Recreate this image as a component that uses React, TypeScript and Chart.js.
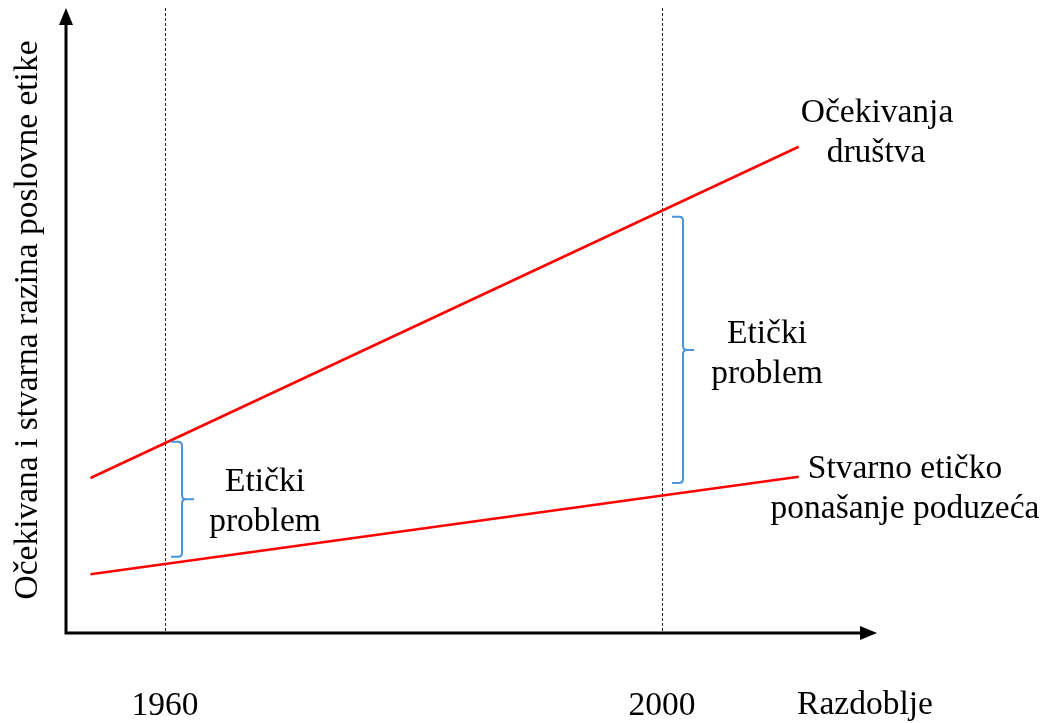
import React, { useEffect, useRef } from "react";
import { Chart, registerables } from "chart.js";

Chart.register(...registerables);

// ---- data ----
const periods = [1954, 2011];
const societyExpectations = [24.8, 77.8];
const actualBehaviour = [9.4, 25.0];
const markedYears = [1960, 2000];
const tickLabels = ["1960", "2000"];
const gapTop = [30.6, 66.6];
const gapBottom = [12.2, 24.0];
const gapLabel = ["Etički", "problem"];
const expectationsLabel = ["Očekivanja", "društva"];
const behaviourLabel = ["Stvarno etičko", "ponašanje poduzeća"];
const xTitle = "Razdoblje";
const yTitle = "Očekivana i stvarna razina poslovne etike";

const FONT = '33.5px "Liberation Serif", "Times New Roman", serif';

const overlay = {
  id: "overlay",
  beforeDatasetsDraw(chart: any) {
    const { ctx, chartArea, scales } = chart;
    const xs = scales.x;
    ctx.save();
    ctx.strokeStyle = "#222";
    ctx.lineWidth = 1;
    ctx.setLineDash([3, 2]);
    markedYears.forEach((yr) => {
      const px = Math.round(xs.getPixelForValue(yr)) + 0.5;
      ctx.beginPath();
      ctx.moveTo(px, chartArea.top);
      ctx.lineTo(px, chartArea.bottom);
      ctx.stroke();
    });
    ctx.restore();
  },
  afterDatasetsDraw(chart: any) {
    const { ctx, chartArea, scales } = chart;
    const xs = scales.x;
    const ys = scales.y;
    const left = chartArea.left;
    const bottom = chartArea.bottom;
    const top = chartArea.top;
    const right = chartArea.right;
    ctx.save();
    // axes
    ctx.strokeStyle = "#000";
    ctx.fillStyle = "#000";
    ctx.lineWidth = 3;
    ctx.setLineDash([]);
    ctx.beginPath();
    ctx.moveTo(left, top + 12);
    ctx.lineTo(left, bottom);
    ctx.lineTo(right - 12, bottom);
    ctx.stroke();
    // arrow heads
    ctx.beginPath();
    ctx.moveTo(left, top);
    ctx.lineTo(left - 7, top + 17);
    ctx.lineTo(left + 7, top + 17);
    ctx.closePath();
    ctx.fill();
    ctx.beginPath();
    ctx.moveTo(right, bottom);
    ctx.lineTo(right - 17, bottom - 7);
    ctx.lineTo(right - 17, bottom + 7);
    ctx.closePath();
    ctx.fill();

    // braces
    ctx.strokeStyle = "#4A94DA";
    ctx.lineWidth = 2;
    const offs = [
      [6, 17, 29],
      [10, 21, 32],
    ];
    markedYears.forEach((yr, i) => {
      const x0 = xs.getPixelForValue(yr) + offs[i][0];
      const xv = xs.getPixelForValue(yr) + offs[i][1];
      const xt = xs.getPixelForValue(yr) + offs[i][2];
      const yt = ys.getPixelForValue(gapTop[i]);
      const yb = ys.getPixelForValue(gapBottom[i]);
      const ym = (yt + yb) / 2;
      const r = 4;
      ctx.beginPath();
      ctx.moveTo(x0, yt);
      ctx.lineTo(xv - r, yt);
      ctx.quadraticCurveTo(xv, yt, xv, yt + r);
      ctx.lineTo(xv, ym - r);
      ctx.quadraticCurveTo(xv, ym, xv + r, ym);
      ctx.lineTo(xt, ym);
      ctx.moveTo(xv + r, ym);
      ctx.quadraticCurveTo(xv, ym, xv, ym + r);
      ctx.lineTo(xv, yb - r);
      ctx.quadraticCurveTo(xv, yb, xv - r, yb);
      ctx.lineTo(x0, yb);
      ctx.stroke();
    });

    // text
    ctx.fillStyle = "#000";
    ctx.font = FONT;
    ctx.textAlign = "center";
    ctx.textBaseline = "alphabetic";
    // gap labels
    const gapCx = [265, 767];
    const gapBase = [491, 343];
    gapCx.forEach((cx, i) => {
      ctx.fillText(gapLabel[0], cx, gapBase[i]);
      ctx.fillText(gapLabel[1], cx, gapBase[i] + 40);
    });
    // series labels
    ctx.fillText(expectationsLabel[0], 877, 122);
    ctx.fillText(expectationsLabel[1], 876, 162);
    ctx.fillText(behaviourLabel[0], 905, 478);
    ctx.fillText(behaviourLabel[1], 905, 518);
    // tick labels
    markedYears.forEach((yr, i) => {
      ctx.fillText(tickLabels[i], xs.getPixelForValue(yr), 715);
    });
    ctx.fillText(xTitle, 865, 714);
    // y title
    ctx.translate(37, 320);
    ctx.rotate(-Math.PI / 2);
    ctx.fillText(yTitle, 0, 0);
    ctx.restore();
  },
};

export default function App() {
  const ref = useRef<HTMLCanvasElement | null>(null);
  useEffect(() => {
    if (!ref.current) return;
    const chart = new Chart(ref.current, {
      type: "line",
      data: {
        datasets: [
          {
            label: expectationsLabel.join(" "),
            data: periods.map((p, i) => ({ x: p, y: societyExpectations[i] })),
            borderColor: "#FF0000",
            borderWidth: 2.5,
            pointRadius: 0,
            fill: false,
          },
          {
            label: behaviourLabel.join(" "),
            data: periods.map((p, i) => ({ x: p, y: actualBehaviour[i] })),
            borderColor: "#FF0000",
            borderWidth: 2.5,
            pointRadius: 0,
            fill: false,
          },
        ],
      },
      options: {
        animation: false,
        responsive: false,
        devicePixelRatio: 1,
        layout: { padding: { left: 66, right: 171, top: 8, bottom: 90 } },
        plugins: { legend: { display: false }, tooltip: { enabled: false } },
        scales: {
          x: { type: "linear", min: 1952.03, max: 2017.3, display: false },
          y: { type: "linear", min: 0, max: 100, display: false },
        },
      },
      plugins: [overlay],
    });
    return () => chart.destroy();
  }, []);
  return (
    <div style={{ position: "absolute", left: 0, top: 0, width: 1048, height: 723, background: "#fff" }}>
      <canvas ref={ref} width={1048} height={723} />
    </div>
  );
}
